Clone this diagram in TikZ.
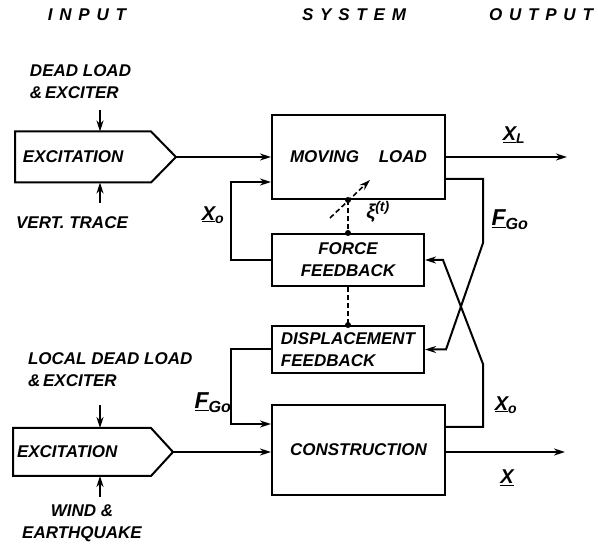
\documentclass[tikz,border=0pt]{standalone}
\usepackage{fontspec}
\setmainfont{Liberation Sans}
\usetikzlibrary{arrows.meta}

\begin{document}
\begin{tikzpicture}[x=1pt, y=-1pt, line width=2pt, >={Stealth[length=11pt,width=7pt]},
  font=\bfseries\itshape\fontsize{17}{22}\selectfont,
  block/.style={draw, align=center, inner sep=0pt},
  txt/.style={align=left, inner sep=0pt},
  sig/.style={font=\bfseries\itshape\fontsize{20}{22}\selectfont},
  big/.style={font=\bfseries\itshape\fontsize{23}{24}\selectfont},
  dashes/.style={dash pattern=on 5pt off 3pt}]
  \useasboundingbox (0,0) rectangle (598,548);

  % Headings
  \node (hin) at (87,15) {\addfontfeature{LetterSpace=40}INPUT};
  \node (hsys) at (354,15) {\addfontfeature{LetterSpace=40}SYSTEM};
  \node (hout) at (541,15) {\addfontfeature{LetterSpace=40}OUTPUT};

  % System blocks
  \node[block, minimum width=173pt, minimum height=84pt] (load) at (358.5,157) {MOVING\quad\,LOAD};
  \node[block, minimum width=152pt, minimum height=52pt] (force) at (348,260) {FORCE\\FEEDBACK};
  \node[block, align=left, minimum width=152pt, minimum height=47pt] (disp) at (348,349.5) {DISPLACEMENT\\FEEDBACK};
  \node[block, minimum width=173pt, minimum height=90pt] (cons) at (358.5,450) {CONSTRUCTION};

  % Excitations
  \node[txt, minimum width=134pt, minimum height=49pt, text width=120pt] (exc1) at (83,157) {EXCITATION};
  \draw (exc1.north west) -- (exc1.north east) -- ([xshift=25pt]exc1.east) coordinate (tip1)
    -- (exc1.south east) -- (exc1.south west) -- cycle;
  \node[txt, minimum width=136pt, minimum height=46pt, text width=130pt] (exc2) at (82,452) {EXCITATION};
  \draw (exc2.north west) -- (exc2.north east) -- ([xshift=22pt]exc2.east) coordinate (tip2)
    -- (exc2.south east) -- (exc2.south west) -- cycle;

  % Input texts
  \node[txt, anchor=north west] (dl1) at (29,64) {DEAD LOAD\\\&\,EXCITER};
  \node (vt) at (72,223) {VERT.\ TRACE};
  \node[txt, anchor=north west] (dl2) at (27,352) {LOCAL DEAD LOAD\\\&\,EXCITER};
  \node[align=center, inner sep=0pt] (wq) at (82,523) {WIND \&\\EARTHQUAKE};
  \coordinate (a1) at (100,110);
  \coordinate (b1) at (100,203);
  \coordinate (a2) at (100,405);
  \coordinate (b2) at (100,497);
  \draw[->] (a1) -- (a1 |- exc1.north);
  \draw[->] (b1) -- (b1 |- exc1.south);
  \draw[->] (a2) -- (a2 |- exc2.north);
  \draw[->] (b2) -- (b2 |- exc2.south);

  % Forward paths
  \coordinate (xl) at (567,157);
  \coordinate (xc) at (565,452);
  \draw[->] (tip1) -- (tip1 -| load.west);
  \draw[->] (load.east) -- (xl);
  \draw[->] (tip2) -- (tip2 -| cons.west);
  \draw[->] (tip2 -| cons.east) -- (xc);

  % Feedback loops
  \draw[->] (force.west) -- ++(-40,0) |- ([yshift=18pt]load.south west);
  \draw[->] (disp.west) -- ++(-40,0) |- ([yshift=-20pt]cons.north west);
  \draw[->] ([yshift=21pt]load.south east) -- ++(37,0) -- ++(0,64)
    -- ([xshift=21pt]disp.east) -- (disp.east);
  \draw[->] ([yshift=-23pt]cons.north east) -- ++(37,0) -- ++(0,-63)
    -- ([xshift=18pt]force.east) -- (force.east);

  % Coupling
  \coordinate (xi) at (force.north |- load.south);
  \draw[dashes] (xi) -- (force.north);
  \draw[dashes] (force.south) -- (disp.north);
  \draw[dashes, ->, line width=1.6pt] ([shift={(-18,18)}]xi) -- ([shift={(22,-20)}]xi);
  \fill (xi) circle (3pt);
  \fill (force.north) circle (3pt);
  \fill (disp.north) circle (3pt);

  % Signal labels
  \node[sig] (lxi) at (378,212) {ξ\textsuperscript{(t)}};
  \node[sig] (lx0a) at (213,215) {\underline{X}\textsubscript{o}};
  \node[big] (lfa) at (213,403) {\underline{F}\textsubscript{Go}};
  \node[sig] (lxl) at (514,135) {\underline{X}\textsubscript{L}};
  \node[big] (lfb) at (510,220) {\underline{F}\textsubscript{Go}};
  \node[sig] (lx0b) at (506,405) {\underline{X}\textsubscript{o}};
  \node[sig] (lx) at (507,478) {\underline{X}};
\end{tikzpicture}
\end{document}
